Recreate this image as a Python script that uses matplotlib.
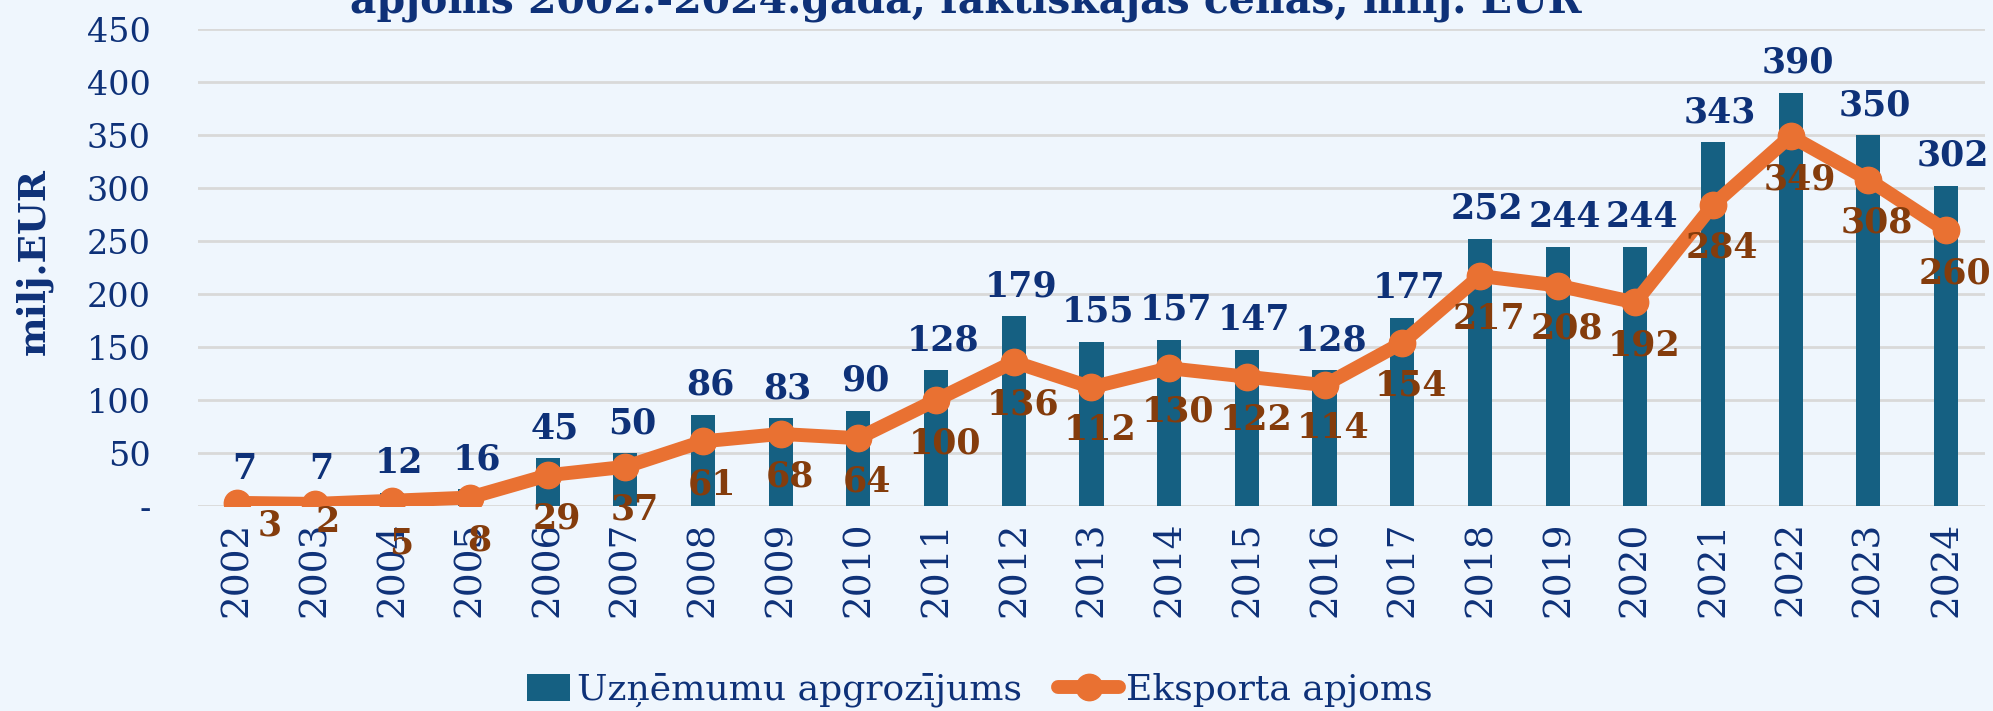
import matplotlib
matplotlib.use("Agg")
import matplotlib.pyplot as plt
from matplotlib.patches import Rectangle
from matplotlib.legend_handler import HandlerPatch
import numpy as np

years = [str(y) for y in range(2002, 2025)]
turnover = [7, 7, 12, 16, 45, 50, 86, 83, 90, 128, 179, 155, 157, 147, 128, 177, 252, 244, 244, 343, 390, 350, 302]
export = [3, 2, 5, 8, 29, 37, 61, 68, 64, 100, 136, 112, 130, 122, 114, 154, 217, 208, 192, 284, 349, 308, 260]
y_ticks = [0, 50, 100, 150, 200, 250, 300, 350, 400, 450]
y_tick_labels = ["-", "50", "100", "150", "200", "250", "300", "350", "400", "450"]
series_names = ["Uzņēmumu apgrozījums", "Eksporta apjoms"]
title_text = "apjoms 2002.-2024.gadā, faktiskajās cenās, milj. EUR"
y_label = "milj.EUR"

BG = "#EFF6FD"
BAR = "#156082"
LINE = "#E97132"
NAVY = "#0E3178"
BROWN = "#843C0C"
SERIF = ["DejaVu Serif"]

fig = plt.figure(figsize=(19.93, 7.11), dpi=100, facecolor=BG)
ax = fig.add_axes([0.0994, 0.2883, 0.8965, 0.6709])
ax.set_facecolor(BG)

x = np.arange(len(years))
bars = ax.bar(x, turnover, width=0.31, color=BAR, zorder=2, label=series_names[0])
line, = ax.plot(x, export, color=LINE, lw=10, marker="o", markersize=19, zorder=3,
                label=series_names[1], solid_capstyle="round")

ax.set_xlim(-0.5, len(years) - 0.5)
ax.set_ylim(0, 450)
ax.set_yticks(y_ticks)
ax.set_yticklabels(y_tick_labels, fontsize=24, color=NAVY, family=SERIF)
ax.set_xticks(x)
ax.set_xticklabels(years, rotation=90, fontsize=27, color=NAVY, family=SERIF)
ax.tick_params(axis="y", length=0, pad=34)
ax.tick_params(axis="x", length=0, pad=11)
ax.grid(axis="y", color="#D9D9D9", lw=2, zorder=0)
for s in ax.spines.values():
    s.set_visible(False)

# bar value labels
for xi, v in zip(x, turnover):
    ax.annotate(str(v), (xi, v), xytext=(7, 30), textcoords="offset pixels",
                ha="center", va="center", fontsize=25, fontweight="bold",
                color=NAVY, family=SERIF, zorder=5)

# line value labels (first two nudged as in the original)
nudges = {0: (33, -23), 1: (13, -18)}
for i, (xi, v) in enumerate(zip(x, export)):
    dx, dy = nudges.get(i, (9, -43))
    ax.annotate(str(v), (xi, v), xytext=(dx, dy), textcoords="offset pixels",
                ha="center", va="center", fontsize=25, fontweight="bold",
                color=BROWN, family=SERIF, zorder=6)

fig.text(34 / 1993, 1 - 262 / 711, y_label, rotation=90, ha="center", va="center",
         fontsize=27, fontweight="bold", color=NAVY, family=SERIF)

fig.text(0.4845, 1 - 12 / 711, title_text, ha="center", va="baseline",
         fontsize=29.5, fontweight="bold", color=NAVY, family=SERIF)


def square_patch(legend, orig_handle, xdescent, ydescent, width, height, fontsize):
    w = width * 0.7
    return Rectangle((width - w - xdescent, -ydescent - height * 0.05), w, height * 1.05)


bar_handle = bars.patches[0]
leg = fig.legend([bar_handle, line], series_names, loc="center",
                 bbox_to_anchor=(0.487, 1 - 690 / 711),
                 ncol=2, frameon=False, prop={"family": SERIF, "size": 26},
                 handlelength=1.7, handletextpad=0.2, columnspacing=1.0,
                 borderpad=0, borderaxespad=0,
                 handler_map={bar_handle: HandlerPatch(patch_func=square_patch)})
for t in leg.get_texts():
    t.set_color(NAVY)

fig.savefig("out.png", dpi=100, facecolor=BG)
